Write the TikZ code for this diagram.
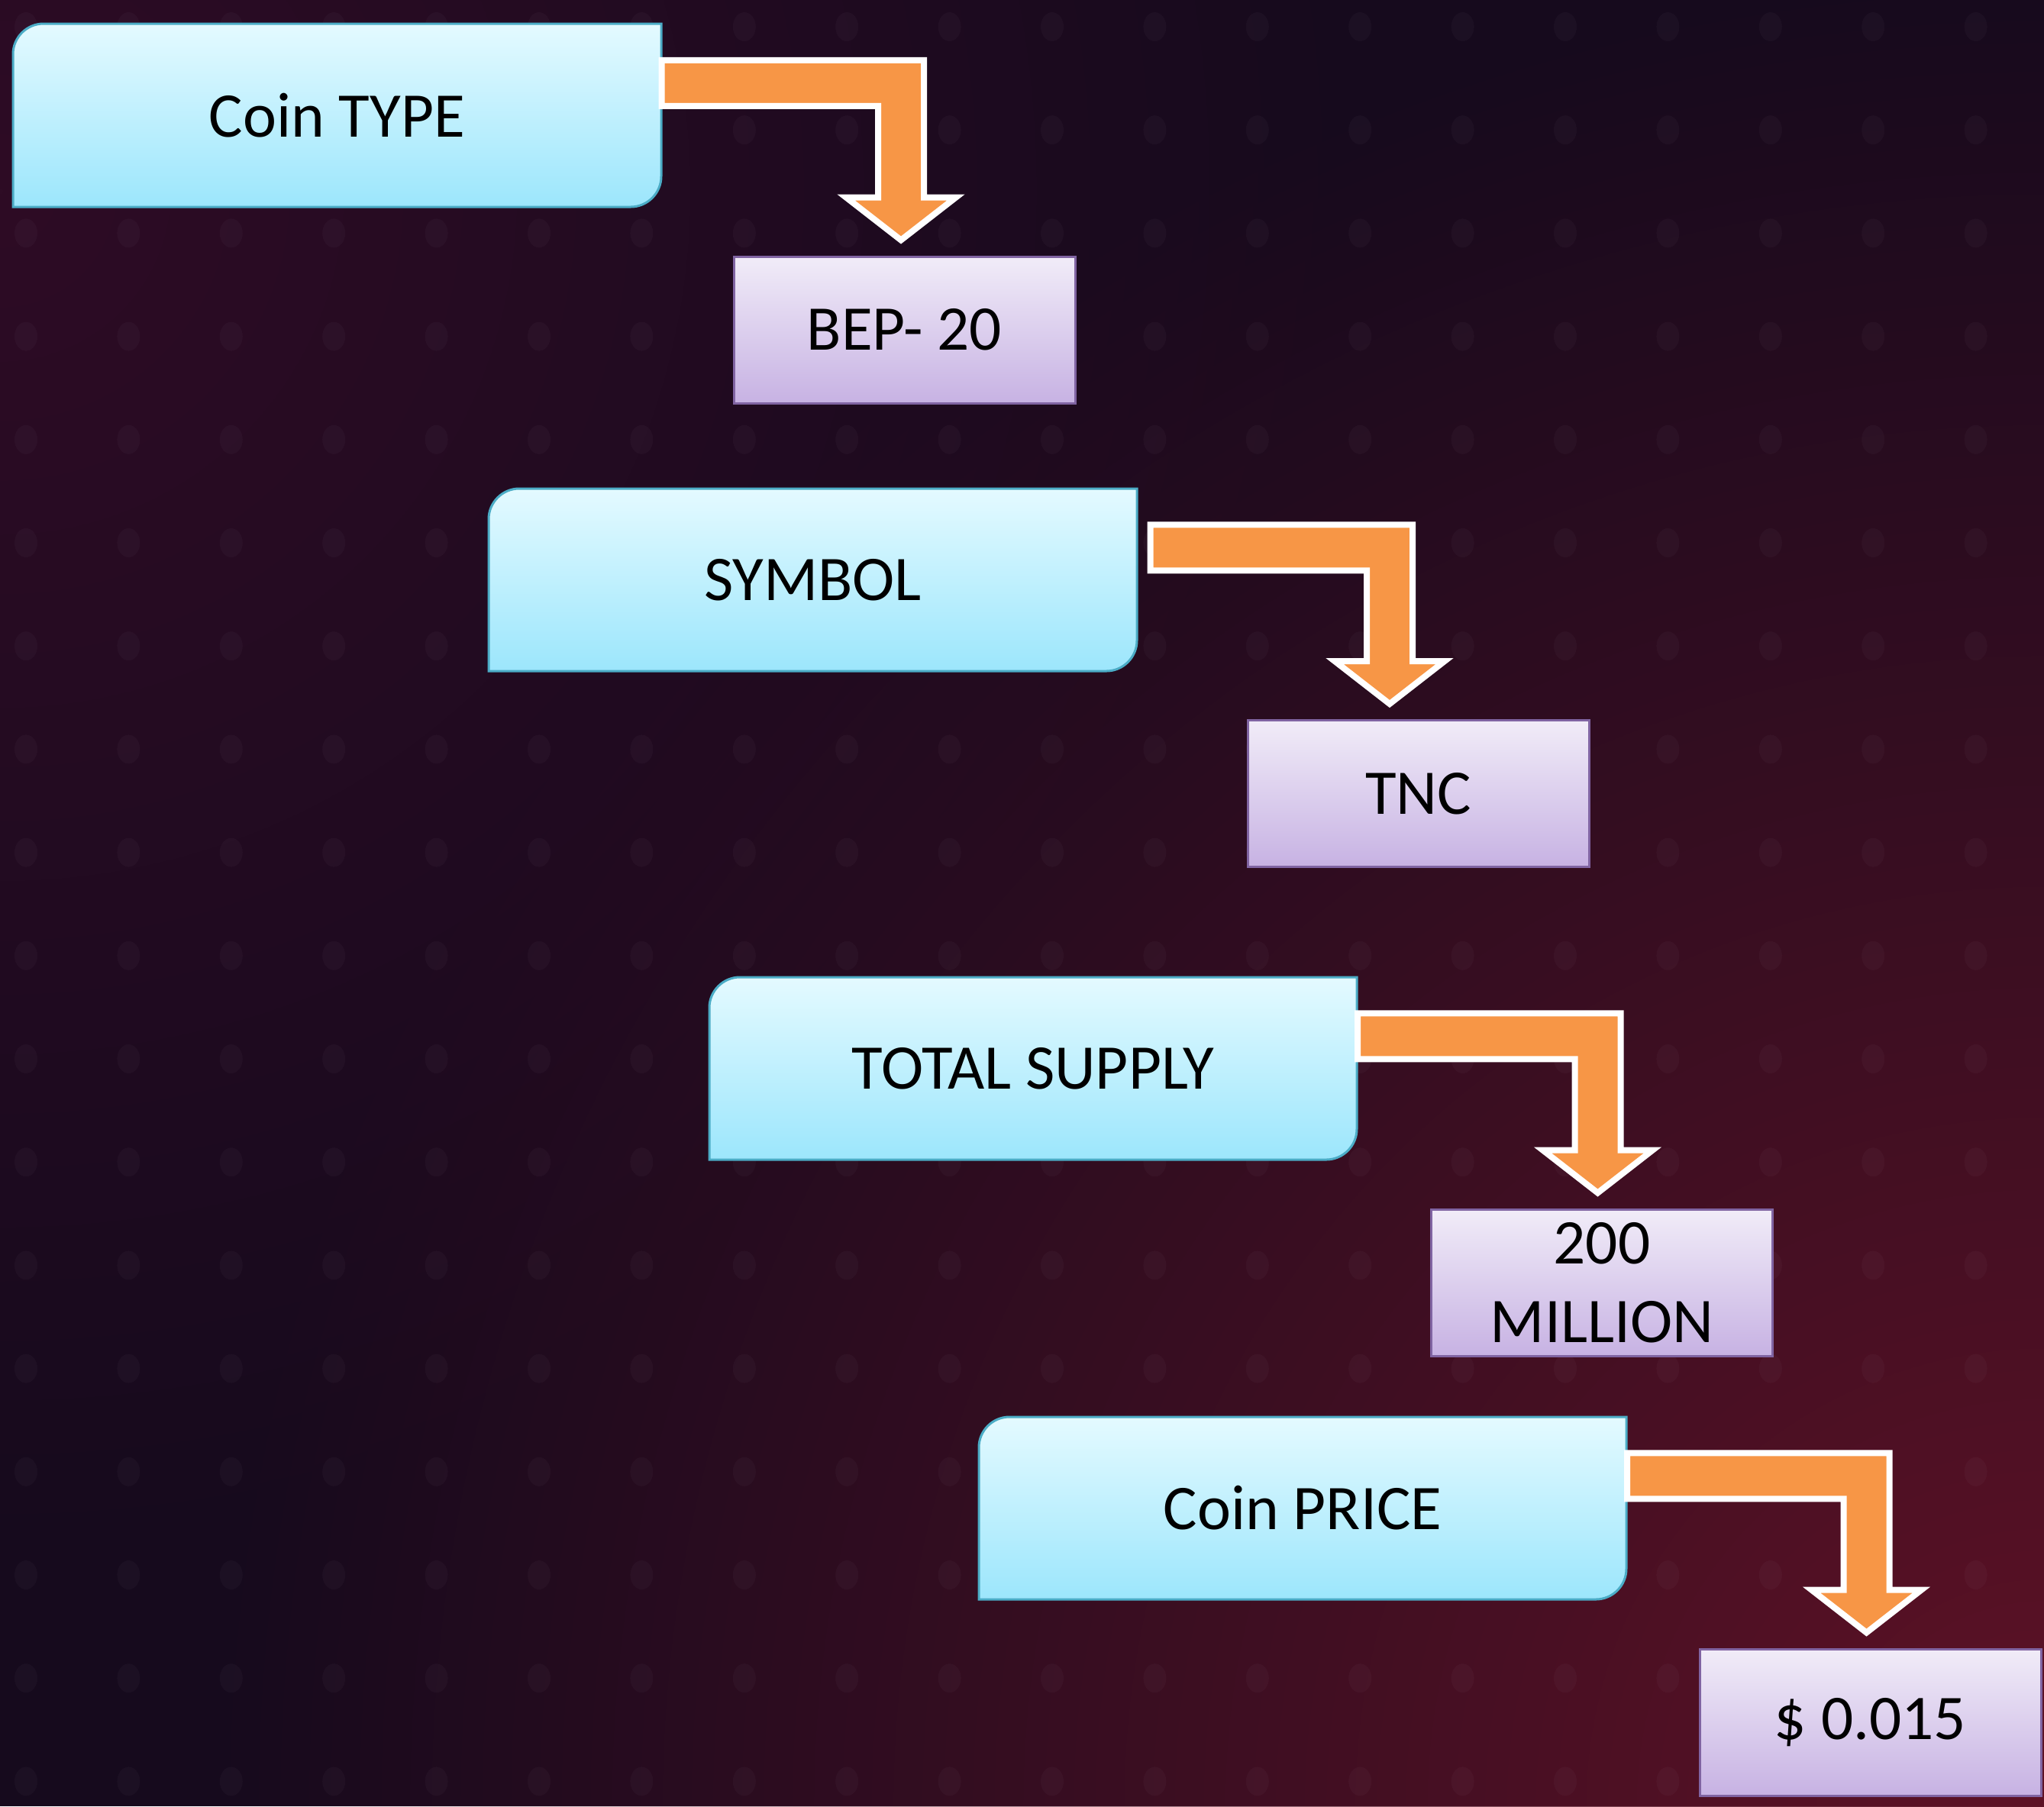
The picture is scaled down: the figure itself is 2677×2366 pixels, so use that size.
\documentclass[tikz,border=0pt]{standalone}
\usepackage{fontspec}
\setmainfont{Carlito}
\usetikzlibrary{calc,fadings}

\definecolor{bgbase}{HTML}{160A1D}
\definecolor{bgred}{HTML}{5E1226}
\definecolor{bgmaroon}{HTML}{2E0C25}
\definecolor{cyantop}{HTML}{E4FAFF}
\definecolor{cyanbot}{HTML}{9CE6FC}
\definecolor{cyanedge}{HTML}{4BACC6}
\definecolor{purptop}{HTML}{F1ECF8}
\definecolor{purpbot}{HTML}{C7B2E3}
\definecolor{purpedge}{HTML}{8064A2}
\definecolor{arroworange}{HTML}{F79646}

\tikzfading[name=glowfade, inner color=transparent!0, outer color=transparent!100]

\tikzset{
  cyanshape/.style={top color=cyantop, bottom color=cyanbot, draw=cyanedge, line width=0.9pt},
  cyanlabel/.style={minimum width=254.7pt, minimum height=72pt, inner sep=0pt,
    font=\fontsize{25}{31}\selectfont, text=black},
  purplebox/.style={draw=purpedge, line width=0.9pt, top color=purptop, bottom color=purpbot,
    minimum width=134.1pt, minimum height=57.6pt, inner sep=0pt, align=center,
    font=\fontsize{25}{31}\selectfont, text=black},
  bentstyle/.style={fill=arroworange, draw=white, line width=2.4pt, line join=miter, miter limit=10},
  bgdot/.style={fill=white, opacity=0.028},
}

% #1 name, #2 x1, #3 y1, #4 x2, #5 y2, #6 text
\newcommand\cyanbox[6]{%
  \path[cyanshape] (#2,#3+40) .. controls (#2,#3+18) and (#2+18,#3) .. (#2+40,#3)
    -- (#4,#3) -- (#4,#5-40) .. controls (#4,#5-18) and (#4-18,#5) .. (#4-40,#5)
    -- (#2,#5) -- cycle;
  \node[cyanlabel] (#1) at ({(#2+#4)/2},{(#3+#5)/2}) {#6};
}

% #1 source node, #2 target node, #3 gap after source (px), #4 shaft offset from target centre (px)
\newcommand\bentarrow[4]{%
  \draw[bentstyle] let \p1=($(#1.north east)+(#3,48.5)$), \p2=($(#2.north)+(#4,-20)$) in
    (\x1,\y1) -- (\x2+9pt,\y1) -- (\x2+9pt,\y2+16.8pt) -- (\x2+21.6pt,\y2+16.8pt)
    -- (\x2,\y2) -- (\x2-21.6pt,\y2+16.8pt) -- (\x2-9pt,\y2+16.8pt)
    -- (\x2-9pt,\y1-18pt) -- (\x1,\y1-18pt) -- cycle;
}

\begin{document}
\begin{tikzpicture}[x=0.3pt, y=-0.3pt]
  \useasboundingbox (0,0) rectangle (2677,2366);
  % background
  \fill[bgbase] (0,0) rectangle (2677,2366);
  \begin{scope}
    \clip (0,0) rectangle (2677,2366);
    \fill[bgred, path fading=glowfade] (2677,2366) circle[radius=2400];
    \fill[bgmaroon, path fading=glowfade] (0,250) circle[radius=1800];
    \foreach \i in {0,...,19}
      \foreach \j in {0,...,17}
        \fill[bgdot] ({34+134.4*\i},{35+135.2*\j}) ellipse [x radius=15, y radius=19];
  \end{scope}

  % cyan boxes
  \cyanbox{c1}{17}{31}{866}{271}{Coin TYPE}
  \cyanbox{c2}{640}{640}{1489}{879}{SYMBOL}
  \cyanbox{c3}{929}{1280}{1777}{1519}{TOTAL SUPPLY}
  \cyanbox{c4}{1282}{1856}{2130}{2095}{Coin PRICE}

  % purple boxes
  \node[purplebox] (p1) at (1184.5,432) {BEP- 20};
  \node[purplebox] (p2) at (1857.5,1039.5) {TNC};
  \node[purplebox] (p3) at (2098,1680) {200\\MILLION};
  \node[purplebox] (p4) at (2449.5,2256) {\$ 0.015};

  % bent arrows
  \bentarrow{c1}{p1}{0}{-4.5}
  \bentarrow{c2}{p2}{17}{-37.5}
  \bentarrow{c3}{p3}{0}{-5.5}
  \bentarrow{c4}{p4}{0}{-5}
\end{tikzpicture}
\end{document}
